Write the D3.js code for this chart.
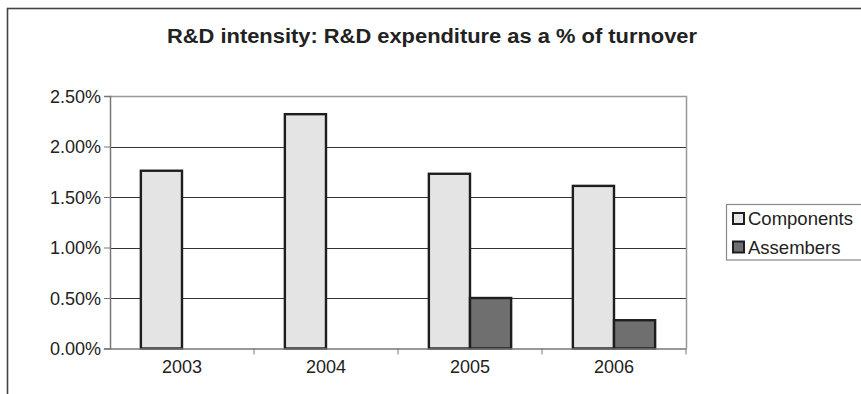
<!DOCTYPE html>
<html><head><meta charset="utf-8">
<script src="https://cdn.jsdelivr.net/npm/d3@7"></script>
<style>body{margin:0;background:#fff}svg{display:block}text{font-family:Arial,"Liberation Sans",sans-serif}</style>
</head><body><svg id="c" width="861" height="394"></svg>
<script>
const title = "R&D intensity: R&D expenditure as a % of turnover";
const categories = ["2003","2004","2005","2006"];
const seriesNames = ["Components","Assembers"];
const components = [0.0176, 0.0232, 0.0173, 0.0161];
const assemblers = [null, null, 0.0050, 0.0028];
const yTicks = [0, 0.005, 0.01, 0.015, 0.02, 0.025];
const colors = ["#e4e4e4","#6f6f6f"];

const svg = d3.select("#c");
const m = {l:110, r:686, t:96, b:348.5};
svg.append("rect").attr("x",7.5).attr("y",8.5).attr("width",900).attr("height",500)
  .attr("fill","#fff").attr("stroke","#444").attr("stroke-width",1.6);

svg.append("text").attr("x",432).attr("y",43).attr("text-anchor","middle")
  .attr("font-size",20).attr("font-weight","bold").attr("fill","#222")
  .attr("textLength",530).attr("lengthAdjust","spacingAndGlyphs").text(title);

const x = d3.scaleBand().domain(categories).range([m.l,m.r]);
const inner = d3.scaleBand().domain(seriesNames).range([0,x.bandwidth()]).paddingInner(0).paddingOuter(0.75);
const y = d3.scaleLinear().domain([0,0.025]).range([m.b,m.t]);

// gridlines
svg.append("g").selectAll("line").data(yTicks.slice(1,-1)).join("line")
  .attr("x1",m.l).attr("x2",m.r).attr("y1",d=>Math.round(y(d))+0.5).attr("y2",d=>Math.round(y(d))+0.5)
  .attr("stroke","#333").attr("stroke-width",1);
// plot border top/right
svg.append("path").attr("d",`M${m.l},${m.t+0.5}H${m.r+0.5}V${m.b}`).attr("fill","none").attr("stroke","#999").attr("stroke-width",1.5);

// bars
const data = [];
categories.forEach((c,i)=>{
  [components[i],assemblers[i]].forEach((v,j)=>{ if(v!=null) data.push({c,s:seriesNames[j],v,j}); });
});
svg.append("g").selectAll("rect").data(data).join("rect")
  .attr("x",d=>x(d.c)+inner(d.s)).attr("width",inner.bandwidth())
  .attr("y",d=>y(d.v)).attr("height",d=>y(0)-y(d.v))
  .attr("fill",d=>colors[d.j]).attr("stroke","#1e1e1e").attr("stroke-width",2.4);

const ff = "Arial, 'Liberation Sans', sans-serif";
// y axis
const ya = svg.append("g").attr("transform",`translate(${m.l},0)`)
  .call(d3.axisLeft(y).tickValues(yTicks).tickFormat(d3.format(".2%")).tickSize(6).tickPadding(3));
ya.select(".domain").attr("stroke","#777").attr("stroke-width",1.5);
ya.selectAll(".tick line").attr("stroke","#777");
ya.selectAll("text").attr("font-size",18).attr("fill","#222").attr("font-family",ff).attr("dy","0.36em");

// x axis
const xa = svg.append("g").attr("transform",`translate(0,${m.b})`)
  .call(d3.axisBottom(x).tickSize(0).tickPadding(12));
xa.select(".domain").attr("stroke","#777").attr("stroke-width",1.5);
xa.selectAll("text").attr("font-size",18).attr("fill","#222").attr("font-family",ff);
svg.append("g").selectAll("line").data(categories.slice(1).concat(["end"])).join("line")
  .attr("x1",(d,i)=> i<3 ? x(d) : m.r).attr("x2",(d,i)=> i<3 ? x(d) : m.r)
  .attr("y1",m.b).attr("y2",m.b+6).attr("stroke","#777");

// legend
const lg = svg.append("g");
lg.append("rect").attr("x",726.5).attr("y",204.5).attr("width",200).attr("height",55.5)
  .attr("fill","#fff").attr("stroke","#888").attr("stroke-width",1.2);
seriesNames.forEach((s,i)=>{
  lg.append("rect").attr("x",733).attr("y",213+i*28.5).attr("width",11).attr("height",11)
    .attr("fill",colors[i]).attr("stroke","#1e1e1e").attr("stroke-width",2);
  lg.append("text").attr("x",748).attr("y",225+i*28.5).attr("font-size",18.5).attr("fill","#222").text(s);
});
</script></body></html>
